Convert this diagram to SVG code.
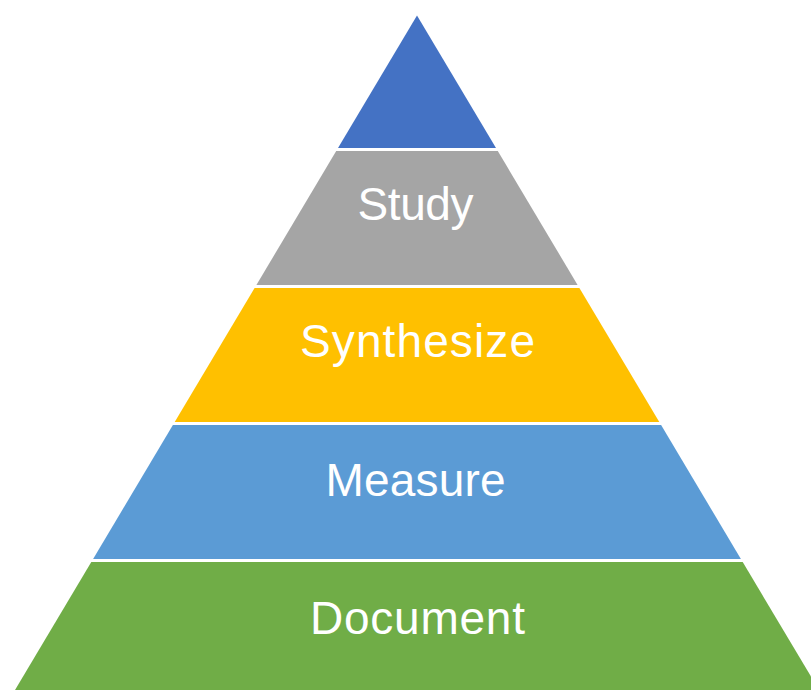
<svg xmlns="http://www.w3.org/2000/svg" width="811" height="690" viewBox="0 0 811 690">
  <style>
    .lbl { font-family: "Liberation Sans", Arial, sans-serif; font-size: 46px; fill: #FFFFFF; text-anchor: middle; }
  </style>
  <rect width="811" height="690" fill="#FFFFFF"/>
  <!-- Pyramid tiers, top to bottom, separated by thin white gaps -->
  <g id="tier-top">
    <polygon points="417,15.5 496,148 338,148" fill="#4472C4"/>
  </g>
  <g id="tier-study">
    <polygon points="336.2,151 497.8,151 577.6,285 256.4,285" fill="#A5A5A5"/>
    <text class="lbl" x="415.5" y="220" textLength="116" lengthAdjust="spacing">Study</text>
  </g>
  <g id="tier-synthesize">
    <polygon points="254.6,288 579.4,288 659.3,422 174.7,422" fill="#FFC000"/>
    <text class="lbl" x="417.5" y="357" textLength="235" lengthAdjust="spacing">Synthesize</text>
  </g>
  <g id="tier-measure">
    <polygon points="172.9,425 661.1,425 740.9,559 93.1,559" fill="#5B9BD5"/>
    <text class="lbl" x="415.5" y="496" textLength="180" lengthAdjust="spacing">Measure</text>
  </g>
  <g id="tier-document">
    <polygon points="91.3,562 742.7,562 819,690 15,690" fill="#70AD47"/>
    <text class="lbl" x="417.5" y="634" textLength="215" lengthAdjust="spacing">Document</text>
  </g>
  <g id="connectors"/>
</svg>
